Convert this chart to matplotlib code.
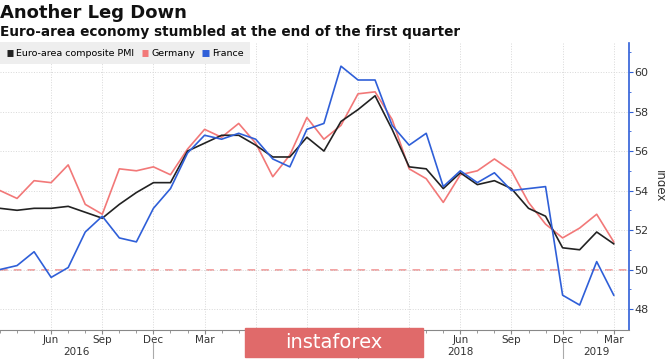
import numpy as np
import matplotlib
matplotlib.use("Agg")
import matplotlib.pyplot as plt
from matplotlib.patches import Rectangle

# monthly values, Mar 2016 .. Mar 2019
months = ["Mar", "Apr", "May", "Jun", "Jul", "Aug", "Sep", "Oct", "Nov", "Dec", "Jan", "Feb"] * 3 + ["Mar"]
euro = [53.1, 53.0, 53.1, 53.1, 53.2, 52.9, 52.6, 53.3, 53.9, 54.4, 54.4, 56.0,
        56.4, 56.8, 56.8, 56.3, 55.7, 55.7, 56.7, 56.0, 57.5, 58.1, 58.8, 57.1,
        55.2, 55.1, 54.1, 54.9, 54.3, 54.5, 54.1, 53.1, 52.7, 51.1, 51.0, 51.9,
        51.3]
germany = [54.0, 53.6, 54.5, 54.4, 55.3, 53.3, 52.8, 55.1, 55.0, 55.2, 54.8, 56.1,
           57.1, 56.7, 57.4, 56.4, 54.7, 55.8, 57.7, 56.6, 57.3, 58.9, 59.0, 57.6,
           55.1, 54.6, 53.4, 54.8, 55.0, 55.6, 55.0, 53.4, 52.3, 51.6, 52.1, 52.8,
           51.4]
france = [50.0, 50.2, 50.9, 49.6, 50.1, 51.9, 52.7, 51.6, 51.4, 53.1, 54.1, 55.9,
          56.8, 56.6, 56.9, 56.6, 55.6, 55.2, 57.1, 57.4, 60.3, 59.6, 59.6, 57.3,
          56.3, 56.9, 54.2, 55.0, 54.4, 54.9, 54.0, 54.1, 54.2, 48.7, 48.2, 50.4,
          48.7]
years = ["2016", "2017", "2018", "2019"]
year_pos = [4.5, 15.5, 27, 35]

x = np.arange(len(euro))

fig = plt.figure(figsize=(6.65, 3.59), dpi=100)
ax = fig.add_axes([0.0, 0.081, 0.946, 0.799])

ax.axhline(50, color="#f08a8a", lw=1.1, ls=(0, (5, 4)), zorder=1)
ax.plot(x, euro, color="#222222", lw=1.2, label="Euro-area composite PMI", zorder=3)
ax.plot(x, germany, color="#f27878", lw=1.2, label="Germany", zorder=2)
ax.plot(x, france, color="#2f5fd8", lw=1.2, label="France", zorder=4)

ax.set_xlim(0, 36.9)
ax.set_ylim(46.94, 61.47)

ax.yaxis.tick_right()
ax.yaxis.set_label_position("right")
ax.set_yticks(np.arange(48, 61, 2))
ax.set_yticks(np.arange(49, 62, 2), minor=True)
ax.set_ylabel("Index", rotation=270, labelpad=12, fontsize=8.5, color="#333333")

major = np.arange(3, 37, 3)
ax.set_xticks(major)
ax.set_xticklabels([months[i] for i in major])
ax.set_xticks(x, minor=True)

ax.tick_params(axis="x", which="major", length=3, color="#888888", labelsize=7.5,
               labelcolor="#333333", pad=0.5)
ax.tick_params(axis="x", which="minor", length=2.5, color="#888888")
ax.tick_params(axis="y", which="major", length=3, color="#2f5fd8", labelsize=8,
               labelcolor="#333333", pad=1)
ax.tick_params(axis="y", which="minor", length=1.5, color="#2f5fd8")

ax.grid(True, which="major", color="#d8d8d8", lw=0.7, ls=":")

for s in ["top", "left"]:
    ax.spines[s].set_visible(False)
ax.spines["right"].set_color("#2f5fd8")
ax.spines["right"].set_linewidth(1.2)
ax.spines["bottom"].set_color("#888888")

# year labels and separators
for yr, p in zip(years, year_pos):
    ax.text(p, -0.077, yr, transform=ax.get_xaxis_transform(), ha="center",
            va="center", fontsize=7.5, color="#333333")
for p in [9, 21, 33]:
    ax.plot([p, p], [-0.045, -0.097], transform=ax.get_xaxis_transform(),
            color="#aaaaaa", lw=0.8, clip_on=False)

leg = ax.legend(loc="upper left", bbox_to_anchor=(0.0, 1.003), ncol=3, frameon=True,
                fontsize=6.8, handlelength=0.7, handleheight=0.7, handletextpad=0.3,
                columnspacing=0.8, borderpad=0.7, borderaxespad=0.0)
leg.get_frame().set_facecolor("#eeeeee")
leg.get_frame().set_edgecolor("none")
leg.get_frame().set_alpha(1)
leg.get_frame().set_boxstyle("square", pad=0)
for h in leg.legend_handles:
    h.set_linewidth(5)
    h.set_solid_capstyle("butt")

fig.text(0.0, 0.965, "Another Leg Down", fontsize=13, fontweight="bold",
         color="#111111", va="center", ha="left")
fig.text(0.0, 0.912, "Euro-area economy stumbled at the end of the first quarter",
         fontsize=9.8, fontweight="bold", color="#111111", va="center", ha="left")

# watermark
fig.patches.append(Rectangle((245 / 665, 2 / 359), 178 / 665, 29 / 359,
                             transform=fig.transFigure, color="#e06a6a", zorder=5))
fig.text(334 / 665, 16.5 / 359, "instaforex", color="white", fontsize=14,
         ha="center", va="center", zorder=6)

fig.savefig("out.png", dpi=100)
